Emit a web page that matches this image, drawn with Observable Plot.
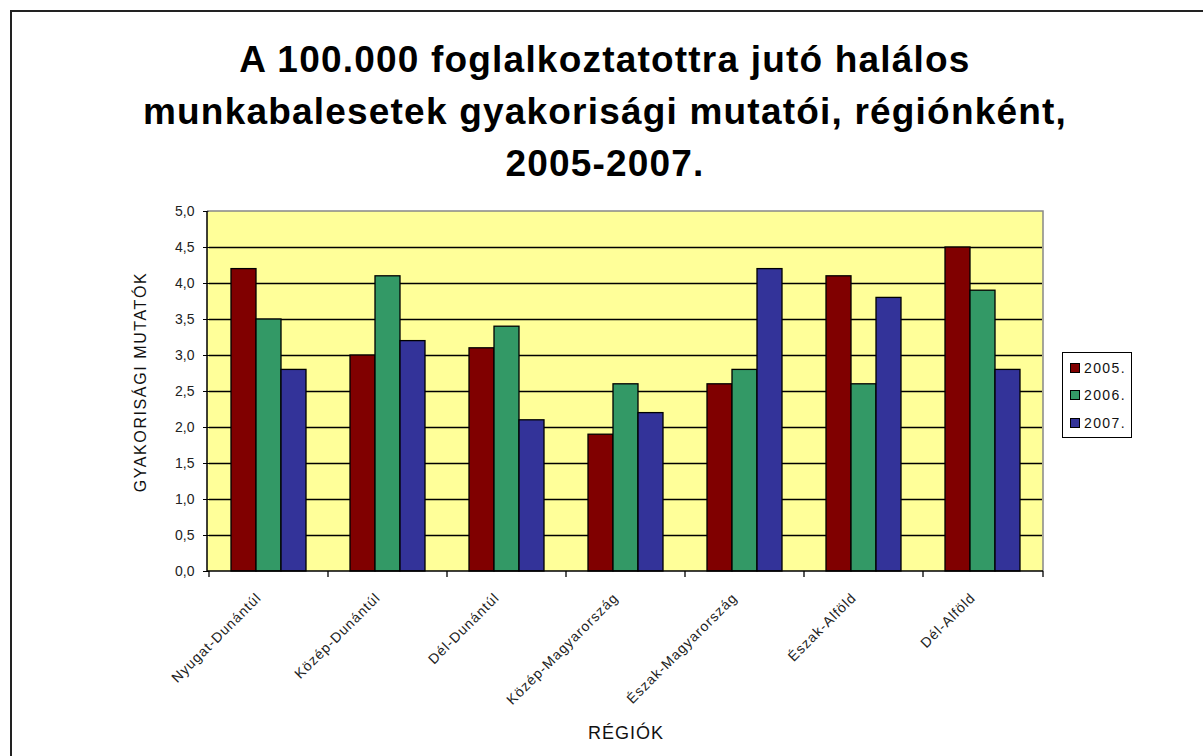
<!DOCTYPE html>
<html>
<head>
<meta charset="utf-8">
<script src="https://cdn.jsdelivr.net/npm/d3@7"></script>
<script src="https://cdn.jsdelivr.net/npm/@observablehq/plot@0.6"></script>
<style>
  html, body { margin: 0; padding: 0; background: #fff; overflow: hidden; }
  body { width: 1203px; height: 756px; position: relative; font-family: "Liberation Sans", Arial, sans-serif; }
  #frame { position: absolute; left: 10px; top: 10px; width: 1300px; height: 900px; border-left: 2px solid #222; border-top: 2px solid #222; }
  #title { position: absolute; left: 0; top: 34px; width: 1210px; text-align: center; font-weight: bold; font-size: 37px; letter-spacing: 1.2px; line-height: 52px; color: #000; }
  #chart { position: absolute; left: 0; top: 0; }
  #ylab { position: absolute; left: 141px; top: 382px; transform: translate(-50%, -50%) rotate(-90deg); font-size: 16px; letter-spacing: 1.6px; white-space: nowrap; color: #111; }
  #xlab { position: absolute; left: 626px; top: 733px; transform: translate(-50%, -50%); font-size: 18px; letter-spacing: 1px; white-space: nowrap; color: #111; }
  #legend { position: absolute; left: 1062px; top: 352px; width: 70px; height: 86px; border: 1px solid #000; background: #fff; box-sizing: border-box; padding-top: 1px; }
  .li { display: flex; align-items: center; height: 27.5px; font-size: 14px; letter-spacing: 1.4px; color: #111; padding-left: 7px; }
  .sw { width: 8px; height: 8px; border: 1px solid #000; margin-right: 4px; }
</style>
</head>
<body>
<div id="frame"></div>
<div id="title">A 100.000 foglalkoztatottra jutó halálos<br>munkabalesetek gyakorisági mutatói, régiónként,<br>2005-2007.</div>
<div id="chart"></div>
<div id="ylab">GYAKORISÁGI MUTATÓK</div>
<div id="xlab">RÉGIÓK</div>
<div id="legend"></div>
<script>
const regions = ["Nyugat-Dunántúl", "Közép-Dunántúl", "Dél-Dunántúl", "Közép-Magyarország", "Észak-Magyarország", "Észak-Alföld", "Dél-Alföld"];
const years = ["2005.", "2006.", "2007."];
const v2005 = [4.2, 3.0, 3.1, 1.9, 2.6, 4.1, 4.5];
const v2006 = [3.5, 4.1, 3.4, 2.6, 2.8, 2.6, 3.9];
const v2007 = [2.8, 3.2, 2.1, 2.2, 4.2, 3.8, 2.8];
const yTicks = [0, 0.5, 1, 1.5, 2, 2.5, 3, 3.5, 4, 4.5, 5];
const colors = ["#800000", "#339966", "#333399"];

const series = [v2005, v2006, v2007];
const data = [];
regions.forEach((r, i) => years.forEach((y, j) => data.push({region: r, year: y, value: series[j][i]})));

const fmt = d => d.toFixed(1).replace(".", ",");

const plot = Plot.plot({
  width: 1203,
  height: 756,
  marginLeft: 207,
  marginRight: 160,
  marginTop: 211,
  marginBottom: 185,
  style: {background: "transparent", fontFamily: "Liberation Sans, Arial, sans-serif", color: "#222"},
  fx: {domain: regions, padding: 0},
  x: {domain: years, paddingInner: 0, paddingOuter: 0.8, axis: null},
  y: {domain: [0, 5]},
  color: {domain: years, range: colors},
  marks: [
    Plot.gridY(yTicks.filter(t => t > 0 && t < 5), {stroke: "#000", strokeOpacity: 1, strokeWidth: 1.3}),
    Plot.barY(data, {fx: "region", x: "year", y: "value", fill: "year", stroke: "#000", strokeWidth: 1.3, inset: 0}),
    Plot.axisY({ticks: yTicks, tickFormat: fmt, tickSize: 6, tickPadding: 9, fontSize: 14, label: null, stroke: "#000"}),
    Plot.axisFx({anchor: "bottom", tickRotate: -45, tickSize: 0, tickPadding: 24, fontSize: 14, label: null, dx: -10})
  ]
});
document.getElementById("chart").appendChild(plot);
d3.select(plot).selectAll("[aria-label='fx-axis tick label'] text").style("letter-spacing", "1px");

// plot-area background, border and category tick marks, from the scales
const svg = d3.select(plot);
const fxs = plot.scale("fx");
const ys = plot.scale("y");
const x0 = d3.min(fxs.range), x1 = d3.max(fxs.range);
const yTop = ys.apply(5), yBot = ys.apply(0);
svg.insert("rect", ":first-child")
  .attr("x", x0).attr("y", yTop).attr("width", x1 - x0).attr("height", yBot - yTop)
  .attr("fill", "#ffff99");
const g = svg.append("g");
g.append("path").attr("d", `M${x0},${yTop}H${x1}V${yBot}`).attr("fill", "none").attr("stroke", "#888").attr("stroke-width", 1.5);
g.append("path").attr("d", `M${x0},${yTop}V${yBot}H${x1}`).attr("fill", "none").attr("stroke", "#000").attr("stroke-width", 1.5);
const bounds = regions.map(r => fxs.apply(r)).concat([x1]);
g.selectAll("line.tk").data(bounds).join("line")
  .attr("x1", d => d).attr("x2", d => d).attr("y1", yBot).attr("y2", yBot + 6)
  .attr("stroke", "#000").attr("stroke-width", 1.3);

// legend
const lg = d3.select("#legend");
years.forEach((y, i) => {
  const row = lg.append("div").attr("class", "li");
  row.append("div").attr("class", "sw").style("background", colors[i]);
  row.append("span").text(y);
});
</script>
</body>
</html>
